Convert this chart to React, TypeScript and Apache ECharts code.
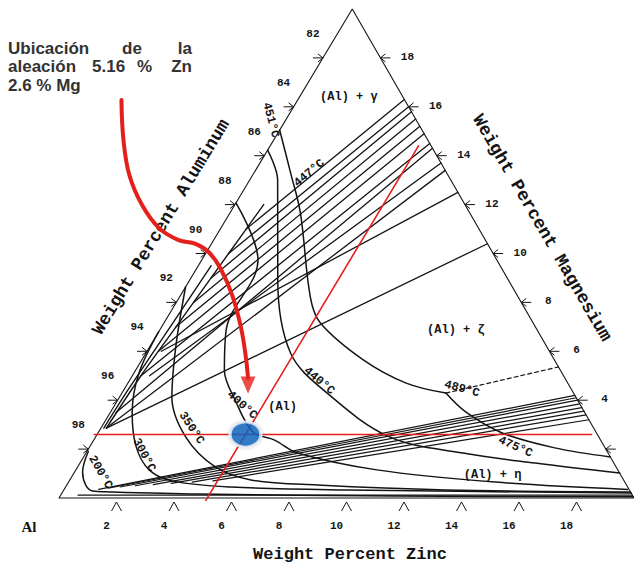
import React, { useEffect, useRef } from "react";
import * as echarts from "echarts";

// All points are compositions [wt% Zn, wt% Mg]  (Al = 100 - Zn - Mg)
const SKEW = 0.51; // apex offset of the drawn triangle, in %Zn per %Mg

const triangle = [[0, 0], [20, 0], [0, 20], [0, 0]];

const alTicks = [98, 96, 94, 92, 90, 88, 86, 84, 82];
const mgTicks = [18, 16, 14, 12, 10, 8, 6, 4, 2];
const mgLabelled = [18, 16, 14, 12, 10, 8, 6, 4];
const znTicks = [2, 4, 6, 8, 10, 12, 14, 16, 18];

const iso200 = [[0.05, 1.9], [0.28, 1.06], [0.66, 0.53], [1.02, 0.29], [1.63, 0.25], [4.77, 0.16], [11.7, 0.08], [19.95, 0.05]];
const iso300 = [[0, 6.8], [0.18, 5.1], [0.77, 3.48], [1.62, 2.09], [2.55, 1.15], [3.57, 0.7], [5.76, 0.45], [9.85, 0.33], [19.8, 0.2]];
const iso350 = [[0, 8.63], [0.91, 6.18], [1.82, 4.13], [3.13, 2.5], [4.79, 1.27], [6.3, 0.74], [8.71, 0.53], [13.29, 0.33], [19.75, 0.25]];
const iso400 = [[0, 12.07], [1.96, 9.73], [2.31, 6.87], [3.08, 5.24], [4.08, 4.01], [5.37, 2.7], [6.29, 2.37], [7.36, 1.84], [10.47, 1.15], [14.85, 0.65], [19.6, 0.35]];
const iso440 = [[0, 14.23], [0.97, 13.01], [3.06, 8.92], [5.03, 5.93], [7.14, 4.29], [10.22, 2.5], [13.11, 1.84], [15.83, 1.43], [18.98, 1.02]];
const iso451a = [[0, 15.05], [1.28, 13.29], [2.45, 11.66], [4.55, 8.22], [5.44, 7.16], [7.72, 5.64], [9.68, 4.7], [11.27, 4.29]];
const iso451b = [[11.27, 4.29], [12.35, 3.52], [14.06, 2.66], [16.2, 2.05], [18.32, 1.68]];
const dashed489 = [[11.27, 4.29], [14.64, 5.36]];
const solvusA = [[0.19, 2.86], [0.3, 5], [0.5, 7], [0.7, 9], [0.9, 11], [1.0, 12]];
const solvusB = [[0.1, 2.86], [0.15, 4.5], [0.3, 7], [0.45, 9.5]];
const bottomLine = [[0.6, 0.12], [19.88, 0.12]];

const tieUpper = [
  [[0.3, 5], [5.5, 14.5]],
  [[0.4, 6], [5.1, 14.9]],
  [[0.5, 7], [4.8, 15.2]],
  [[0.6, 8], [4.5, 15.5]],
  [[0.7, 9], [4.2, 15.8]],
  [[0.8, 10], [4.0, 16.0]],
  [[0.9, 11], [3.7, 16.3]],
  [[0.2, 3.5], [5.7, 14.3]],
  [[0.6, 5], [6.3, 13.7]],
];
const tieMiddle = [
  [[0.19, 2.86], [6.6, 13.4]],
  [[0.5, 6], [7.5, 12.5]],
  [[0.19, 2.86], [9.6, 10.4]],
];
const tieEta = [
  [[1.2, 0.35], [15.8, 4.2]],
  [[1.5, 0.4], [15.9, 4.1]],
  [[1.9, 0.45], [16.0, 4.0]],
  [[2.4, 0.5], [16.15, 3.85]],
  [[3.0, 0.55], [16.3, 3.7]],
  [[3.6, 0.6], [16.45, 3.55]],
  [[4.3, 0.65], [16.6, 3.4]],
  [[5.0, 0.7], [16.8, 3.2]],
];

const alloy = [5.16, 2.6];
const guideMg = [[-0.1, alloy[1]], [17.2, alloy[1]]];
const guideZn = [[alloy[0], -0.1], [alloy[0], 14.4]];

const arrowPath = [[-6.13, 16.28], [-5.23, 14.65], [-4.29, 13.21], [-3.22, 11.98], [-2.15, 11.04], [-1.22, 10.55], [-0.55, 10.39], [0.07, 10.06], [0.81, 9.41], [1.79, 8.3], [2.79, 6.95], [3.58, 5.73], [4.07, 4.91]];
const arrowHead = [4.22, 4.62];

const labels = [
  { text: "200°C", pos: [0.9, 1.06], rot: -60 },
  { text: "300°C", pos: [2.06, 1.76], rot: -62 },
  { text: "350°C", pos: [3.15, 2.86], rot: -56 },
  { text: "400°C", pos: [4.43, 3.8], rot: -42 },
  { text: "440°C", pos: [6.61, 4.79], rot: -40 },
  { text: "447°C", pos: [1.93, 13.29], rot: 40 },
  { text: "451°C", pos: [-0.52, 15.46], rot: -75 },
  { text: "489°C", pos: [11.74, 4.46], rot: -15 },
  { text: "475°C", pos: [14.81, 2.09], rot: -24 },
  { text: "(Al) + γ", pos: [1.72, 16.4], rot: 0 },
  { text: "(Al) + ζ", pos: [10.3, 6.87], rot: 0 },
  { text: "(Al)", pos: [5.88, 3.72], rot: 0 },
  { text: "(Al) + η", pos: [14.6, 0.94], rot: 0 },
];

type Tick = { pos: number[]; side: "L" | "R" | "B"; text: string };
const ticks: Tick[] = [
  ...alTicks.map((al) => ({ pos: [0, 100 - al], side: "L" as const, text: String(al) })),
  ...mgTicks.map((mg) => ({ pos: [20 - mg, mg], side: "R" as const, text: mgLabelled.includes(mg) ? String(mg) : "" })),
  ...znTicks.map((zn) => ({ pos: [zn, 0], side: "B" as const, text: String(zn) })),
];

const toXY = (p: number[]) => [p[0] + SKEW * p[1], p[1]];

const INK = "#141414";
const RED = "#e3201b";
const MONO = "Liberation Mono";

function line(pts: number[][], opt: any = {}) {
  return {
    type: "line",
    data: pts.map(toXY),
    symbol: "none",
    showSymbol: false,
    smooth: opt.smooth ?? false,
    clip: false,
    silent: true,
    z: opt.z ?? 2,
    lineStyle: { color: opt.color ?? INK, width: opt.width ?? 1.2, type: opt.type ?? "solid", cap: "round" },
  };
}

function txt(text: string, x: number, y: number, size: number, opt: any = {}) {
  return {
    type: "text",
    x,
    y,
    rotation: ((opt.rot ?? 0) * Math.PI) / 180,
    style: {
      text,
      fill: opt.color ?? INK,
      fontSize: size,
      fontFamily: opt.family ?? MONO,
      fontWeight: opt.weight ?? "bold",
      textAlign: opt.align ?? "center",
      textVerticalAlign: "middle",
      align: opt.align ?? "center",
      verticalAlign: "middle",
    },
  };
}

const SANS = "Liberation Sans";
const NOTE = "#333333";

const option: any = {
  animation: false,
  backgroundColor: "#ffffff",
  grid: { left: 59, top: 9, width: 581, height: 489 },
  xAxis: { type: "value", min: 0, max: 20, show: false },
  yAxis: { type: "value", min: 0, max: 20, show: false },
  graphic: [
    txt("Ubicación", 8, 48.5, 17, { family: SANS, align: "left", color: NOTE }),
    txt("de", 122, 48.5, 17, { family: SANS, align: "left", color: NOTE }),
    txt("la", 192, 48.5, 17, { family: SANS, align: "right", color: NOTE }),
    txt("aleación", 8, 66.5, 17, { family: SANS, align: "left", color: NOTE }),
    txt("5.16", 92, 66.5, 17, { family: SANS, align: "left", color: NOTE }),
    txt("%", 137, 66.5, 17, { family: SANS, align: "left", color: NOTE }),
    txt("Zn", 192, 66.5, 17, { family: SANS, align: "right", color: NOTE }),
    txt("2.6 % Mg", 8, 85, 17, { family: SANS, align: "left", color: NOTE }),
    txt("Weight Percent Zinc", 350, 554, 17),
    txt("Weight Percent Aluminum", 161, 227, 18, { rot: 58.8 }),
    txt("Weight Percent Magnesium", 542, 228, 18, { rot: -59.8 }),
    txt("Al", 29, 527, 15, { family: "Liberation Serif" }),
  ],
  series: [
    line(triangle, { width: 1.1 }),
    line(bottomLine, { width: 1.3 }),
    ...[iso200, iso300, iso350, iso400, iso440, iso451a, iso451b].map((c) => line(c, { smooth: 0.35, width: 1.5 })),
    ...[solvusA, solvusB].map((c) => line(c, { smooth: 0.3, width: 1.4 })),
    ...tieUpper.map((t) => line(t, { width: 1.3 })),
    ...tieMiddle.map((t) => line(t, { width: 1.3 })),
    ...tieEta.map((t) => line(t, { width: 1.2 })),
    line(dashed489, { type: [4, 3], width: 1.2 }),
    line(guideMg, { color: RED, width: 1.6, z: 3 }),
    line(guideZn, { color: RED, width: 1.6, z: 3 }),
    line(arrowPath, { color: RED, width: 4, smooth: 0.4, z: 5 }),
    {
      type: "scatter",
      data: [toXY(arrowHead)],
      symbol: "triangle",
      symbolRotate: 180,
      symbolSize: [15, 17],
      itemStyle: { color: RED },
      silent: true,
      z: 5,
    },
    {
      type: "scatter",
      data: [toXY(alloy)],
      symbol: "circle",
      symbolSize: [31, 25],
      itemStyle: {
        color: "#1466c0",
        borderColor: "#eef2f7",
        borderWidth: 3,
        shadowBlur: 2,
        shadowColor: "rgba(0,0,0,0.3)",
      },
      silent: true,
      z: 6,
    },
    {
      type: "custom",
      coordinateSystem: "cartesian2d",
      clip: false,
      silent: true,
      z: 4,
      data: ticks.map((t) => toXY(t.pos)),
      renderItem: (params: any, api: any) => {
        const t = ticks[params.dataIndex];
        const [x, y] = api.coord([api.value(0), api.value(1)]);
        const st = { stroke: INK, lineWidth: 1, fill: null };
        let shapes: number[][][] = [];
        let lx = x, ly = y;
        if (t.side === "L") {
          shapes = [[[x - 10, y], [x, y]], [[x - 5, y - 4], [x, y], [x - 5, y + 4]]];
          lx = x - 10; ly = y - 24;
        } else if (t.side === "R") {
          shapes = [[[x, y], [x + 10, y]], [[x + 5, y - 4], [x, y], [x + 5, y + 4]]];
          lx = x + 27; ly = y - 1;
        } else {
          shapes = [[[x - 5, y + 13], [x, y + 4], [x + 5, y + 13]]];
          lx = x - 10; ly = y + 28;
        }
        const children: any[] = shapes.map((pts) => ({ type: "polyline", shape: { points: pts }, style: st }));
        if (t.text) {
          children.push({
            type: "text",
            x: lx,
            y: ly,
            style: {
              text: t.text,
              fill: INK,
              fontSize: 11,
              fontFamily: MONO,
              fontWeight: "bold",
              textAlign: "center",
              textVerticalAlign: "middle",
              align: "center",
              verticalAlign: "middle",
            },
          });
        }
        return { type: "group", children };
      },
    },
    {
      type: "custom",
      coordinateSystem: "cartesian2d",
      clip: false,
      silent: true,
      z: 4,
      data: labels.map((l) => toXY(l.pos)),
      renderItem: (params: any, api: any) => {
        const l = labels[params.dataIndex];
        const [x, y] = api.coord([api.value(0), api.value(1)]);
        return {
          type: "text",
          x,
          y,
          rotation: (l.rot * Math.PI) / 180,
          style: {
            text: l.text,
            fill: INK,
            fontSize: 12,
            fontFamily: MONO,
            fontWeight: "bold",
            textAlign: "center",
            textVerticalAlign: "middle",
            align: "center",
            verticalAlign: "middle",
          },
        };
      },
    },
  ],
};

export default function App() {
  const ref = useRef<HTMLDivElement>(null);
  useEffect(() => {
    document.body.style.margin = "0";
    const chart = echarts.init(ref.current!, null, { renderer: "svg" });
    chart.setOption(option);
    return () => chart.dispose();
  }, []);
  return <div ref={ref} style={{ width: 634, height: 568 }} />;
}
